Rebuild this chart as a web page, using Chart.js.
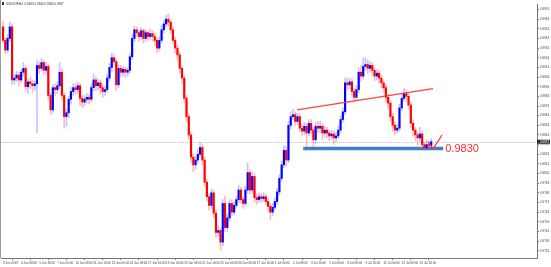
<!DOCTYPE html>
<html>
<head>
<meta charset="utf-8">
<script src="https://cdn.jsdelivr.net/npm/chart.js@4.4.0/dist/chart.umd.min.js"></script>
<style>
html, body { margin: 0; padding: 0; background: #fff; overflow: hidden; }
</style>
</head>
<body>
<canvas id="myChart" width="551" height="267"></canvas>
<script>
// USDCHF H4 candles, prices in pips (x 0.0001)
const opens = [
  9956,9942,9932,9944,9956,9901,9903,9906,9901,9909,
  9913,9894,9899,9897,9895,9897,9916,9913,9919,9911,
  9915,9885,9870,9893,9891,9895,9909,9885,9863,9867,
  9881,9889,9893,9891,9895,9882,9878,9881,9883,9881,
  9893,9901,9895,9898,9893,9889,9891,9903,9914,9924,
  9920,9896,9913,9909,9912,9909,9911,9925,9944,9953,
  9950,9946,9952,9944,9950,9946,9949,9946,9942,9934,
  9942,9953,9959,9964,9961,9953,9942,9934,9927,9913,
  9903,9882,9863,9844,9821,9813,9818,9824,9831,9818,
  9795,9780,9771,9784,9763,9743,9745,9733,9773,9748,
  9758,9773,9764,9771,9777,9787,9777,9773,9787,9805,
  9787,9801,9779,9777,9780,9778,9780,9775,9770,9764,
  9769,9775,9785,9799,9813,9828,9818,9854,9863,9865,
  9858,9863,9851,9848,9853,9846,9856,9849,9839,9853,
  9851,9853,9846,9849,9846,9843,9845,9841,9843,9849,
  9860,9868,9898,9896,9899,9889,9883,9891,9909,9905,
  9915,9917,9913,9916,9911,9905,9908,9903,9898,9893,
  9883,9877,9863,9854,9849,9851,9872,9882,9887,9884,
  9875,9856,9849,9844,9841,9845,9834,9831,9834,9833
];
const highs = [
  9962,9945,9948,9961,9959,9907,9910,9909,9912,9919,
  9916,9902,9904,9901,9900,9921,9920,9923,9922,9919,
  9918,9888,9896,9897,9899,9919,9913,9888,9871,9884,
  9893,9897,9898,9899,9898,9885,9885,9887,9886,9897,
  9907,9904,9902,9901,9896,9895,9907,9918,9929,9928,
  9923,9917,9916,9915,9914,9914,9928,9948,9957,9956,
  9953,9955,9954,9953,9952,9954,9952,9949,9945,9946,
  9958,9963,9968,9969,9963,9956,9945,9937,9930,9916,
  9906,9885,9866,9847,9825,9822,9829,9836,9834,9821,
  9798,9783,9788,9787,9766,9750,9748,9777,9781,9762,
  9777,9777,9775,9781,9792,9790,9780,9791,9815,9808,
  9806,9804,9783,9784,9783,9784,9783,9778,9773,9773,
  9779,9789,9803,9817,9833,9832,9858,9868,9871,9868,
  9867,9866,9855,9857,9856,9860,9860,9852,9857,9858,
  9858,9856,9853,9852,9849,9849,9848,9847,9853,9864,
  9872,9903,9903,9903,9902,9892,9895,9914,9916,9924,
  9924,9922,9920,9919,9914,9912,9911,9906,9901,9896,
  9886,9880,9866,9857,9855,9876,9886,9892,9891,9887,
  9878,9859,9852,9847,9852,9848,9837,9839,9837,9840
];
const lows = [
  9939,9928,9929,9941,9896,9897,9899,9895,9898,9905,
  9889,9887,9892,9888,9890,9846,9908,9910,9906,9907,
  9880,9865,9867,9885,9887,9892,9880,9851,9853,9862,
  9876,9885,9886,9887,9874,9872,9874,9877,9876,9878,
  9890,9890,9891,9887,9883,9885,9888,9900,9910,9915,
  9890,9893,9904,9905,9904,9905,9908,9922,9941,9946,
  9941,9943,9939,9941,9942,9943,9941,9937,9929,9931,
  9939,9950,9956,9957,9949,9938,9929,9921,9908,9897,
  9877,9858,9839,9815,9806,9808,9815,9821,9813,9790,
  9775,9766,9768,9758,9738,9739,9725,9729,9744,9744,
  9755,9760,9761,9768,9774,9773,9768,9770,9784,9783,
  9784,9774,9772,9774,9774,9775,9771,9765,9756,9760,
  9766,9772,9782,9796,9810,9812,9815,9850,9860,9854,
  9855,9847,9843,9844,9831,9843,9845,9831,9835,9846,
  9847,9840,9842,9841,9838,9839,9834,9837,9840,9846,
  9857,9865,9891,9892,9884,9878,9880,9888,9900,9902,
  9911,9908,9909,9906,9900,9901,9898,9893,9888,9878,
  9871,9858,9848,9844,9846,9848,9869,9879,9879,9870,
  9851,9843,9838,9833,9837,9829,9828,9829,9829,9831
];
const closes = [
  9942,9932,9944,9956,9901,9903,9906,9901,9909,9913,
  9894,9899,9897,9895,9897,9916,9913,9919,9911,9915,
  9885,9870,9893,9891,9895,9909,9885,9863,9867,9881,
  9889,9893,9891,9895,9882,9878,9881,9883,9881,9893,
  9901,9895,9898,9893,9889,9891,9903,9914,9924,9920,
  9896,9913,9909,9912,9909,9911,9925,9944,9953,9950,
  9946,9952,9944,9950,9946,9949,9946,9942,9934,9942,
  9953,9959,9964,9961,9953,9942,9934,9927,9913,9903,
  9882,9863,9844,9821,9813,9818,9824,9831,9818,9795,
  9780,9771,9784,9763,9743,9745,9733,9773,9748,9758,
  9773,9764,9771,9777,9787,9777,9773,9787,9805,9787,
  9801,9779,9777,9780,9778,9780,9775,9770,9764,9769,
  9775,9785,9799,9813,9828,9818,9854,9863,9865,9858,
  9863,9851,9848,9853,9846,9856,9849,9839,9853,9851,
  9853,9846,9849,9846,9843,9845,9841,9843,9849,9860,
  9868,9898,9896,9899,9889,9883,9891,9909,9905,9915,
  9917,9913,9916,9911,9905,9908,9903,9898,9893,9883,
  9877,9863,9854,9849,9851,9872,9882,9887,9884,9875,
  9856,9849,9844,9841,9845,9834,9831,9834,9833,9837
];

// time labels, one every 8 bars
const labelBars = [0,8,16,24,32,40,48,56,64,72,80,88,96,104,112,120,128,136,144,152,160,168,176,184];
const xLabels = [
  '3 Jun 2019','4 Jun 08:00','5 Jun 16:00','7 Jun 00:00','10 Jun 08:00','11 Jun 16:00',
  '13 Jun 00:00','14 Jun 08:00','17 Jun 16:00','19 Jun 00:00','20 Jun 08:00','21 Jun 16:00',
  '25 Jun 00:00','26 Jun 08:00','27 Jun 16:00','1 Jul 00:00','2 Jul 08:00','3 Jul 16:00',
  '5 Jul 00:00','8 Jul 08:00','9 Jul 16:00','11 Jul 00:00','12 Jul 08:00','15 Jul 16:00'
];
const yTicks = [9724,9734,9744,9754,9764,9774,9784,9794,9804,9814,9824,9834,9844,
  9854,9864,9874,9884,9894,9904,9914,9924,9934,9944,9954,9964,9974];

const title = 'USDCHF,H4  0.9843 0.9844 0.9830 0.9837';
const lastPrice = 9837;
const supportLevel = 9830;
const supportText = '0.9830';
const trendLine = [[129.8, 9870], [189.8, 9892]];
const supportLine = [[132.5, 9830], [194.3, 9830]];
const checkMark = [[187.6, 9837], [189.8, 9829.5], [193.8, 9844]];

const fmt = v => (v / 10000).toFixed(4);
const up = opens.map((o, i) => closes[i] >= o);

const wicks = opens.map((o, i) => ({ x: i, y: [lows[i], highs[i]] }));
const bodies = opens.map((o, i) => ({ x: i, y: [o, closes[i]] }));
const toPts = arr => arr.map(p => ({ x: p[0], y: p[1] }));

const overlay = {
  id: 'overlay',
  beforeDatasetsDraw(chart) {
    const { ctx, chartArea, scales: { y } } = chart;
    const py = Math.round(y.getPixelForValue(lastPrice)) + 0.5;
    ctx.save();
    ctx.strokeStyle = '#c8c0c0';
    ctx.lineWidth = 1;
    ctx.setLineDash([1, 1]);
    ctx.beginPath();
    ctx.moveTo(chartArea.left, py);
    ctx.lineTo(chartArea.right, py);
    ctx.stroke();
    // left frame line
    ctx.setLineDash([]);
    ctx.strokeStyle = '#9a9a9a';
    ctx.beginPath();
    ctx.moveTo(0.5, chartArea.top - 4);
    ctx.lineTo(0.5, chartArea.bottom);
    ctx.stroke();
    ctx.restore();
  },
  afterDraw(chart) {
    const { ctx, chartArea, scales: { x, y } } = chart;
    ctx.save();
    // title
    ctx.fillStyle = '#333';
    ctx.fillRect(2, 2, 2, 3);
    ctx.font = '3px "Liberation Sans"';
    ctx.textBaseline = 'middle';
    ctx.fillText(title, 6, 4);
    // support label
    ctx.fillStyle = '#ff2a2a';
    ctx.font = '11px "Liberation Sans"';
    ctx.textAlign = 'left';
    ctx.fillText(supportText, x.getPixelForValue(195.2), y.getPixelForValue(supportLevel) + 1);
    // last price box
    const py = y.getPixelForValue(lastPrice);
    ctx.fillStyle = '#2a2a2a';
    ctx.fillRect(chartArea.right, py - 2, 13, 4);
    ctx.fillStyle = '#fff';
    ctx.font = '3px "Liberation Sans"';
    ctx.fillText(fmt(lastPrice), chartArea.right + 3, py);
    ctx.restore();
  }
};

var ctx = document.getElementById('myChart').getContext('2d');

var myChart = new Chart(ctx, {
  type: 'bar',
  data: {
    datasets: [
      {
        type: 'line',
        data: toPts(supportLine),
        borderColor: '#3d82c4',
        borderWidth: 3.5,
        pointRadius: 0,
        order: 5
      },
      {
        label: 'wicks',
        data: wicks,
        backgroundColor: up.map(u => u ? 'rgba(60,60,255,0.3)' : 'rgba(255,60,60,0.35)'),
        barThickness: 1,
        grouped: false,
        order: 4
      },
      {
        label: 'bodies',
        data: bodies,
        backgroundColor: up.map(u => u ? '#0000ff' : '#ff0000'),
        barThickness: 1.5,
        grouped: false,
        order: 3
      },
      {
        type: 'line',
        data: toPts(trendLine),
        borderColor: '#ff4040',
        borderWidth: 1.2,
        pointRadius: 0,
        order: 2
      },
      {
        type: 'line',
        data: toPts(checkMark),
        borderColor: '#ff3030',
        borderWidth: 1.2,
        pointRadius: 0,
        order: 1
      }
    ]
  },
  options: {
    responsive: false,
    animation: false,
    devicePixelRatio: 1,
    layout: { padding: { left: 1, top: 4, right: 0, bottom: 0 } },
    plugins: { legend: { display: false }, tooltip: { enabled: false } },
    scales: {
      x: {
        type: 'linear',
        offset: false,
        min: -0.88,
        max: 235.7,
        afterBuildTicks: s => { s.ticks = labelBars.map(v => ({ value: v })); },
        afterFit: s => { s.height = 9; },
        grid: { drawOnChartArea: false, tickLength: 2, color: '#777' },
        border: { color: '#777' },
        ticks: {
          autoSkip: false,
          maxRotation: 0,
          align: 'start',
          padding: 1,
          color: '#444',
          font: { size: 3, family: 'Liberation Sans' },
          callback: (v, i) => xLabels[i]
        }
      },
      y: {
        position: 'right',
        min: 9716.5,
        max: 9979.7,
        afterBuildTicks: s => { s.ticks = yTicks.map(v => ({ value: v })); },
        afterFit: s => { s.width = 14; },
        grid: { drawOnChartArea: false, tickLength: 2, color: '#777' },
        border: { color: '#777' },
        ticks: {
          padding: 1,
          color: '#444',
          font: { size: 3, family: 'Liberation Sans' },
          callback: v => fmt(v)
        }
      }
    }
  },
  plugins: [overlay]
});
</script>
</body>
</html>
